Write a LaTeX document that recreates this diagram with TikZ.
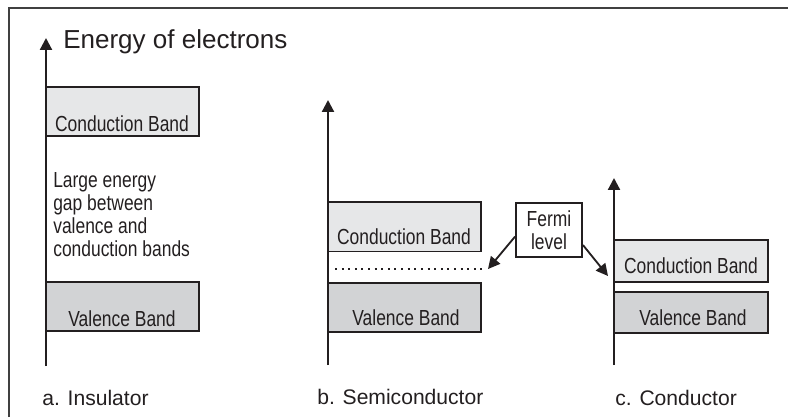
\documentclass[tikz,border=0pt]{standalone}
\usepackage{fontspec}
\setmainfont{Liberation Sans}
\newfontfamily\narrowsf[FakeStretch=0.8]{Liberation Sans}
\usetikzlibrary{arrows.meta}
\definecolor{cbgray}{HTML}{E6E7E8}
\definecolor{vbgray}{HTML}{D2D3D5}
\definecolor{ink}{HTML}{231F20}
\tikzset{
  band/.style={draw=ink,line width=1.4pt},
  bandtxt/.style={font=\narrowsf\fontsize{15.5}{16.4}\selectfont,text=ink,anchor=base,inner sep=0pt},
  axis/.style={draw=ink,line width=1.6pt,-{Triangle[length=8.5pt,width=8.5pt]}},
  ptr/.style={draw=ink,line width=1.3pt,-{Triangle[length=8.5pt,width=8.5pt]}},
  caption/.style={font=\fontsize{15}{18}\selectfont,text=ink,anchor=base west,inner sep=0pt}
}
\begin{document}
\begin{tikzpicture}[x=0.025cm,y=-0.025cm]
\useasboundingbox (0,0) rectangle (788,417);
\draw[black!75,line width=1.5pt] (9,417) |- (788,8);
% a. insulator
\begin{scope}[shift={(46,0)}]
\draw[band,fill=cbgray] (0,87) rectangle (153,136); \node[bandtxt] (icb) at (76,131) {Conduction Band};
\draw[band,fill=vbgray] (0,282) rectangle (153,331); \node[bandtxt] (ivb) at (76,326.5) {Valence Band};
\node[bandtxt,anchor=north west,align=left] (igap) at (7,172.5) {Large energy\\gap between\\valence and\\conduction bands};
\draw[axis] (0,366) -- (0,38);
\node[font=\fontsize{18.5}{20}\selectfont,text=ink,anchor=base west,inner sep=0pt] (etitle) at (17,48.3) {Energy of electrons};
\node[caption] (ilbl) at (-4,405) {a. Insulator};
\end{scope}
% b. semiconductor
\begin{scope}[shift={(328,0)}]
\draw[band,fill=cbgray] (0,202) rectangle (153,251.5); \node[bandtxt] (scb) at (76,244.3) {Conduction Band};
\draw[band,fill=vbgray] (0,283) rectangle (153,332); \node[bandtxt] (svb) at (78,325) {Valence Band};
\draw[ink,line width=1.4pt,dash pattern=on 1.4pt off 3.3pt] (7,269) -- (154,269);
\draw[axis] (0,365) -- (0,100);
\coordinate (stip) at (160,269);
\node[caption] (slbl) at (-11,404) {b. Semiconductor};
\end{scope}
% c. conductor
\begin{scope}[shift={(614,0)}]
\draw[band,fill=cbgray] (0,240) rectangle (154,282); \node[bandtxt] (ccb) at (77,273.5) {Conduction Band};
\draw[band,fill=vbgray] (0,292) rectangle (154,333); \node[bandtxt] (cvb) at (79,325.7) {Valence Band};
\draw[axis] (0,365) -- (0,178);
\coordinate (ctip) at (-6,276);
\node[caption] (clbl) at (1,405) {c. Conductor};
\end{scope}
% fermi level
\node[band,fill=white,minimum width=1.65cm,minimum height=1.35cm,inner sep=0pt,align=center,font=\narrowsf\fontsize{15.5}{15.8}\selectfont,text=ink] (fermi) at (549,230.3) {Fermi\\level};
\draw[ptr] ([yshift=-4.5pt]fermi.west) -- (stip);
\draw[ptr] ([yshift=-10.5pt]fermi.east) -- (ctip);
\end{tikzpicture}
\end{document}
